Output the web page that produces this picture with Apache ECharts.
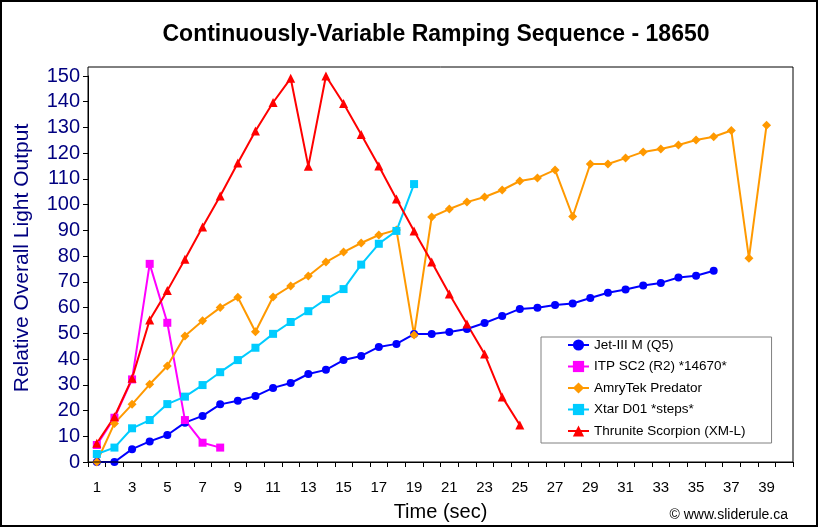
<!DOCTYPE html>
<html>
<head>
<meta charset="utf-8">
<script src="https://cdn.jsdelivr.net/npm/echarts@6/dist/echarts.min.js"></script>
<style>html,body{margin:0;padding:0;background:#fff}#c{width:822px;height:530px}</style>
</head>
<body>
<div id="c"></div>
<script>
const timeLabels = ['1','2','3','4','5','6','7','8','9','10','11','12','13','14','15','16','17','18','19','20','21','22','23','24','25','26','27','28','29','30','31','32','33','34','35','36','37','38','39','40'];
const jetIII = [0,0,5,8,10.5,15.3,17.9,22.4,23.8,25.6,28.8,30.7,34.2,35.8,39.6,41.2,44.7,45.9,49.7,49.7,50.5,51.7,54,56.7,59.5,59.9,61,61.6,63.7,65.8,67,68.6,69.6,71.7,72.4,74.3];
const itpSC2 = [6.6,17.2,32.1,77,54.1,16.3,7.5,5.6];
const amrytek = [0,15,22.4,30.2,37.3,49,54.9,60,64,50.6,64.1,68.4,72.3,77.7,81.6,85.1,88.2,90.2,49.4,95.2,98.3,101,103,105.7,109.2,110.4,113.5,95.4,115.8,115.8,118.1,120.5,121.6,123.2,125.1,126.4,128.8,79.2,130.9];
const xtarD01 = [3.1,5.6,13.1,16.3,22.5,25.4,29.9,34.9,39.6,44.4,49.8,54.4,58.6,63.3,67.2,76.7,84.8,89.8,108];
const thrunite = [7.3,17.6,32.5,55.2,66.6,78.8,91.3,103.4,116.2,128.6,139.7,149.1,114.9,150,139.3,127.3,115,102.2,89.8,77.7,65.3,53.6,42,25.3,14.4];
const yTicks = {min: 0, max: 150, interval: 10};

const FONT = '"Liberation Sans", Arial, sans-serif';
const chart = echarts.init(document.getElementById('c'), null, {renderer: 'canvas'});

function mk(name, data, color, symbol, size) {
  return {
    name: name, type: 'line', data: data, symbol: symbol, symbolSize: size,
    showAllSymbol: true, smooth: false,
    lineStyle: {color: color, width: 2},
    itemStyle: {color: color},
    emphasis: {disabled: true}
  };
}

chart.setOption({
  animation: false,
  backgroundColor: '#fff',
  grid: {left: 88, right: 29, top: 76, bottom: 68, containLabel: false},
  xAxis: {
    type: 'category', data: timeLabels, boundaryGap: true,
    name: 'Time (sec)', nameLocation: 'middle', nameGap: 40,
    nameTextStyle: {color: '#000', fontSize: 20, fontFamily: FONT},
    axisLine: {show: true, lineStyle: {color: '#000', width: 1}},
    axisTick: {show: true, interval: 0, length: 5, lineStyle: {color: '#000'}},
    axisLabel: {interval: 1, color: '#000', fontSize: 15, fontFamily: FONT, margin: 18},
    splitLine: {show: false}
  },
  yAxis: {
    type: 'value', min: yTicks.min, max: yTicks.max, interval: yTicks.interval,
    axisLine: {show: true, lineStyle: {color: '#000', width: 1}},
    axisTick: {show: true, length: 5, lineStyle: {color: '#000'}},
    axisLabel: {color: '#000080', fontSize: 20, fontFamily: FONT, margin: 8},
    splitLine: {show: false}
  },
  legend: {
    orient: 'vertical', left: 541, top: 337,
    backgroundColor: '#fff', borderColor: '#808080', borderWidth: 1,
    padding: [1, 26, 5, 26],
    itemWidth: 21, itemHeight: 14, itemGap: 7.5,
    textStyle: {color: '#000', fontSize: 13.5, fontFamily: FONT},
    data: ['Jet-III M (Q5)', 'ITP SC2 (R2) *14670*', 'AmryTek Predator', 'Xtar D01 *steps*', 'Thrunite Scorpion (XM-L)']
  },
  graphic: [
    {type: 'rect', silent: true, z: 10, shape: {x: 88, y: 67, width: 705, height: 395},
     style: {fill: 'none', stroke: '#000', lineWidth: 1}},
    {type: 'rect', silent: true, z: 10, shape: {x: 1, y: 1, width: 816, height: 525},
     style: {fill: 'none', stroke: '#000', lineWidth: 2}},
    {type: 'text', silent: true, x: 436, y: 35,
     style: {text: 'Continuously-Variable Ramping Sequence - 18650', fill: '#000',
       font: 'bold 23px ' + FONT, textAlign: 'center', textVerticalAlign: 'middle'}},
    {type: 'text', silent: true, x: 22, y: 258, rotation: Math.PI / 2,
     style: {text: 'Relative Overall Light Output', fill: '#000080',
       font: '21px ' + FONT, textAlign: 'center', textVerticalAlign: 'middle'}},
    {type: 'text', silent: true, x: 788, y: 515,
     style: {text: '\u00A9 www.sliderule.ca', fill: '#000',
       font: '14px ' + FONT, textAlign: 'right', textVerticalAlign: 'middle'}}
  ],
  series: [
    mk('Jet-III M (Q5)', jetIII, '#0000FF', 'circle', 8),
    mk('ITP SC2 (R2) *14670*', itpSC2, '#FF00FF', 'rect', 8),
    mk('AmryTek Predator', amrytek, '#FF9900', 'diamond', 9),
    mk('Xtar D01 *steps*', xtarD01, '#00CCFF', 'rect', 8),
    mk('Thrunite Scorpion (XM-L)', thrunite, '#FF0000', 'triangle', 9)
  ]
});
</script>
</body>
</html>
